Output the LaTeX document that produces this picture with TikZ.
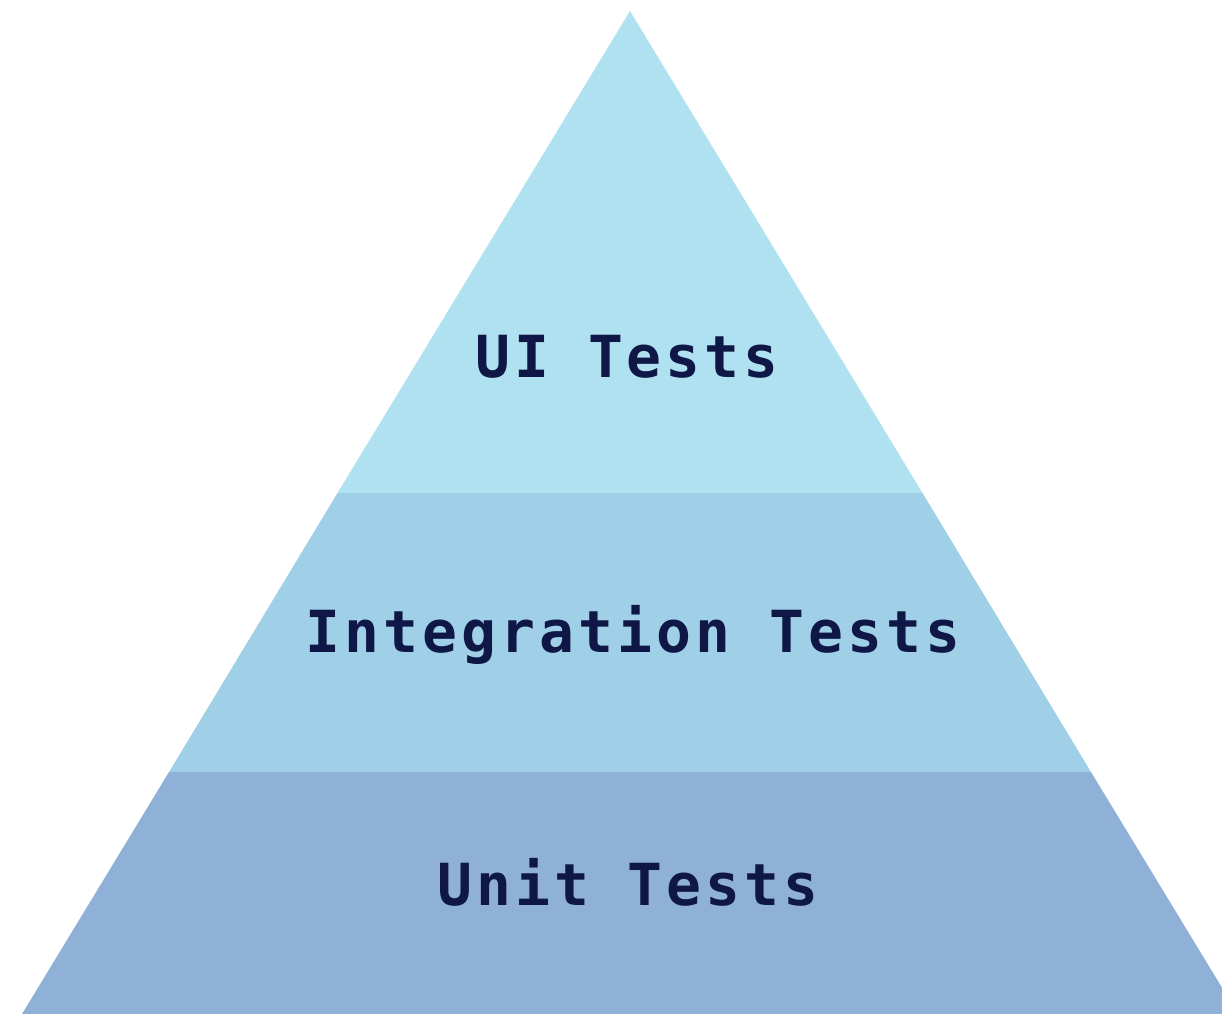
\documentclass[tikz,border=0pt]{standalone}
\usepackage{fontspec}
\newfontfamily\labelfont[LetterSpace=7]{DejaVu Sans Mono}
\definecolor{tiertop}{HTML}{B0E1F0}
\definecolor{tiermid}{HTML}{A0D0E8}
\definecolor{tierbase}{HTML}{8FB1D8}
\definecolor{labelink}{HTML}{0F1747}
\begin{document}
\begin{tikzpicture}[x=1pt,y=-1pt,
  tierlabel/.style={anchor=base, inner sep=0pt, text=labelink,
    font=\labelfont\bfseries\fontsize{58}{58}\selectfont}]
\useasboundingbox (0,0) rectangle (1222,1013);
\begin{scope}
  \clip (0,0) rectangle (1222,1013);
  % apex (630,11); sides slope 608/1002 px per px
  \fill[tiertop]  (630,11) -- (337.5,493) -- (922.5,493) -- cycle;
  \fill[tiermid]  (337.5,493) -- (169,772) -- (1091,772) -- (922.5,493) -- cycle;
  \fill[tierbase] (169,772) -- (22,1014) -- (1238,1014) -- (1091,772) -- cycle;
\end{scope}
\node[tierlabel] (ui)   at (627,377) {UI Tests};
\node[tierlabel] (int)  at (633,652) {Integration Tests};
\node[tierlabel] (unit) at (628,905) {Unit Tests};
\end{tikzpicture}
\end{document}
